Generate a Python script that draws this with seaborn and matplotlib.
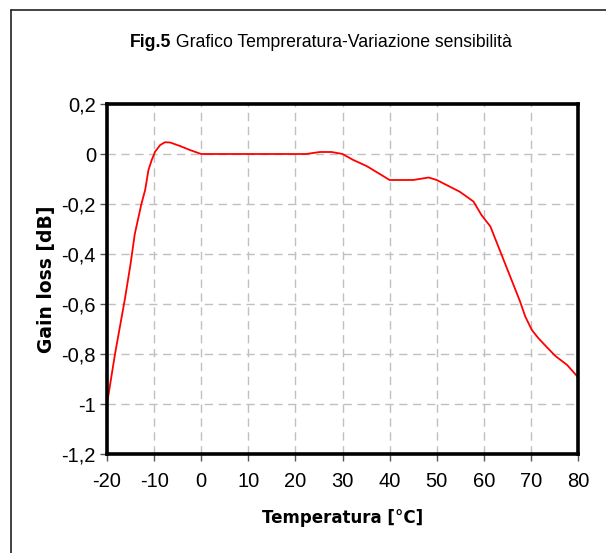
import matplotlib
matplotlib.use("Agg")
import matplotlib.pyplot as plt
import matplotlib.ticker as mticker
from matplotlib.lines import Line2D
import seaborn as sns
import pandas as pd

# Dati: temperatura [°C] e perdita di guadagno [dB]
temperatura = [-20, -18.3, -16.2, -15.0, -14.1, -12.7, -11.9, -11.2, -10.5, -9.8,
               -8.7, -7.7, -6.6, -4.5, -2.4, 0, 22.3, 25.2, 27.7, 30,
               32.3, 35.1, 38, 40, 45, 48.3, 50, 54.9, 57.8, 59.5,
               61.4, 63.5, 65.6, 67.7, 68.8, 70.2, 71.6, 73.4, 75.2, 77.7, 80]
gain_loss = [-1.0, -0.80, -0.58, -0.44, -0.32, -0.20, -0.144, -0.064, -0.024, 0.009,
             0.036, 0.047, 0.046, 0.032, 0.016, 0.0, 0.0, 0.008, 0.008, 0.0,
             -0.024, -0.048, -0.081, -0.104, -0.104, -0.094, -0.104, -0.151, -0.19, -0.244,
             -0.29, -0.39, -0.49, -0.59, -0.65, -0.704, -0.737, -0.773, -0.808, -0.844, -0.893]

x_ticks = list(range(-20, 81, 10))
y_ticks = [0.2, 0, -0.2, -0.4, -0.6, -0.8, -1.0, -1.2]

titolo_bold = "Fig.5"
titolo_resto = " Grafico Tempreratura-Variazione sensibilità"

df = pd.DataFrame({"Temperatura": temperatura, "Gain": gain_loss})

sns.set_style("white")
plt.rcParams['font.family'] = ['Liberation Sans', 'DejaVu Sans']
plt.rcParams['axes.unicode_minus'] = False
plt.rcParams['text.color'] = 'black'
plt.rcParams['axes.labelcolor'] = 'black'
plt.rcParams['xtick.color'] = 'black'
plt.rcParams['ytick.color'] = 'black'

fig = plt.figure(figsize=(6.06, 5.53), dpi=100)
ax = fig.add_axes([107 / 606, 1 - 454 / 553, 471 / 606, 350 / 553])

sns.lineplot(data=df, x="Temperatura", y="Gain", color="red", linewidth=1.3, ax=ax)

ax.set_xlim(-20, 80)
ax.set_ylim(-1.2, 0.2)
ax.set_xticks(x_ticks)
ax.set_yticks(y_ticks)


def virgola(v, pos):
    s = f"{v:.1f}".rstrip('0').rstrip('.')
    if s in ("-0", "0"):
        s = "0"
    return s.replace('.', ',')


ax.yaxis.set_major_formatter(mticker.FuncFormatter(virgola))
ax.xaxis.set_major_formatter(mticker.FuncFormatter(virgola))
ax.tick_params(axis='both', labelsize=14.5, length=5, width=1,
               direction='out', bottom=True, left=True)
ax.tick_params(axis='x', pad=8)
ax.tick_params(axis='y', pad=3)
ax.tick_params(axis='both', color='#555555', labelcolor='black')

ax.grid(True, color='#c0c0c0', linestyle=(0, (6, 4)), linewidth=1)
for sp in ax.spines.values():
    sp.set_linewidth(2.6)
    sp.set_color('black')

ax.set_xlabel("Temperatura [°C]", fontsize=12, fontweight='bold',
              family=['DejaVu Sans'], labelpad=13)
ax.set_ylabel("Gain loss [dB]", fontsize=13.5, fontweight='bold',
              family=['DejaVu Sans'])
ax.yaxis.set_label_coords(-0.108, 0.5)

# titolo: "Fig.5" in grassetto + resto normale
t1 = fig.text(130 / 606, 1 - 47 / 553, titolo_bold, fontsize=12.7, fontweight='bold',
              ha='left', va='baseline')
ax.annotate(titolo_resto, xy=(1, 0), xycoords=t1, fontsize=12.7,
            ha='left', va='bottom')

# cornice esterna (solo lato superiore e sinistro visibili)
fig.add_artist(Line2D([11 / 606, 1.0], [1 - 10 / 553, 1 - 10 / 553],
                      transform=fig.transFigure, color='#222222', linewidth=1.2))
fig.add_artist(Line2D([11 / 606, 11 / 606], [0.0, 1 - 10 / 553],
                      transform=fig.transFigure, color='#222222', linewidth=1.2))

fig.savefig("out.png", dpi=100)
